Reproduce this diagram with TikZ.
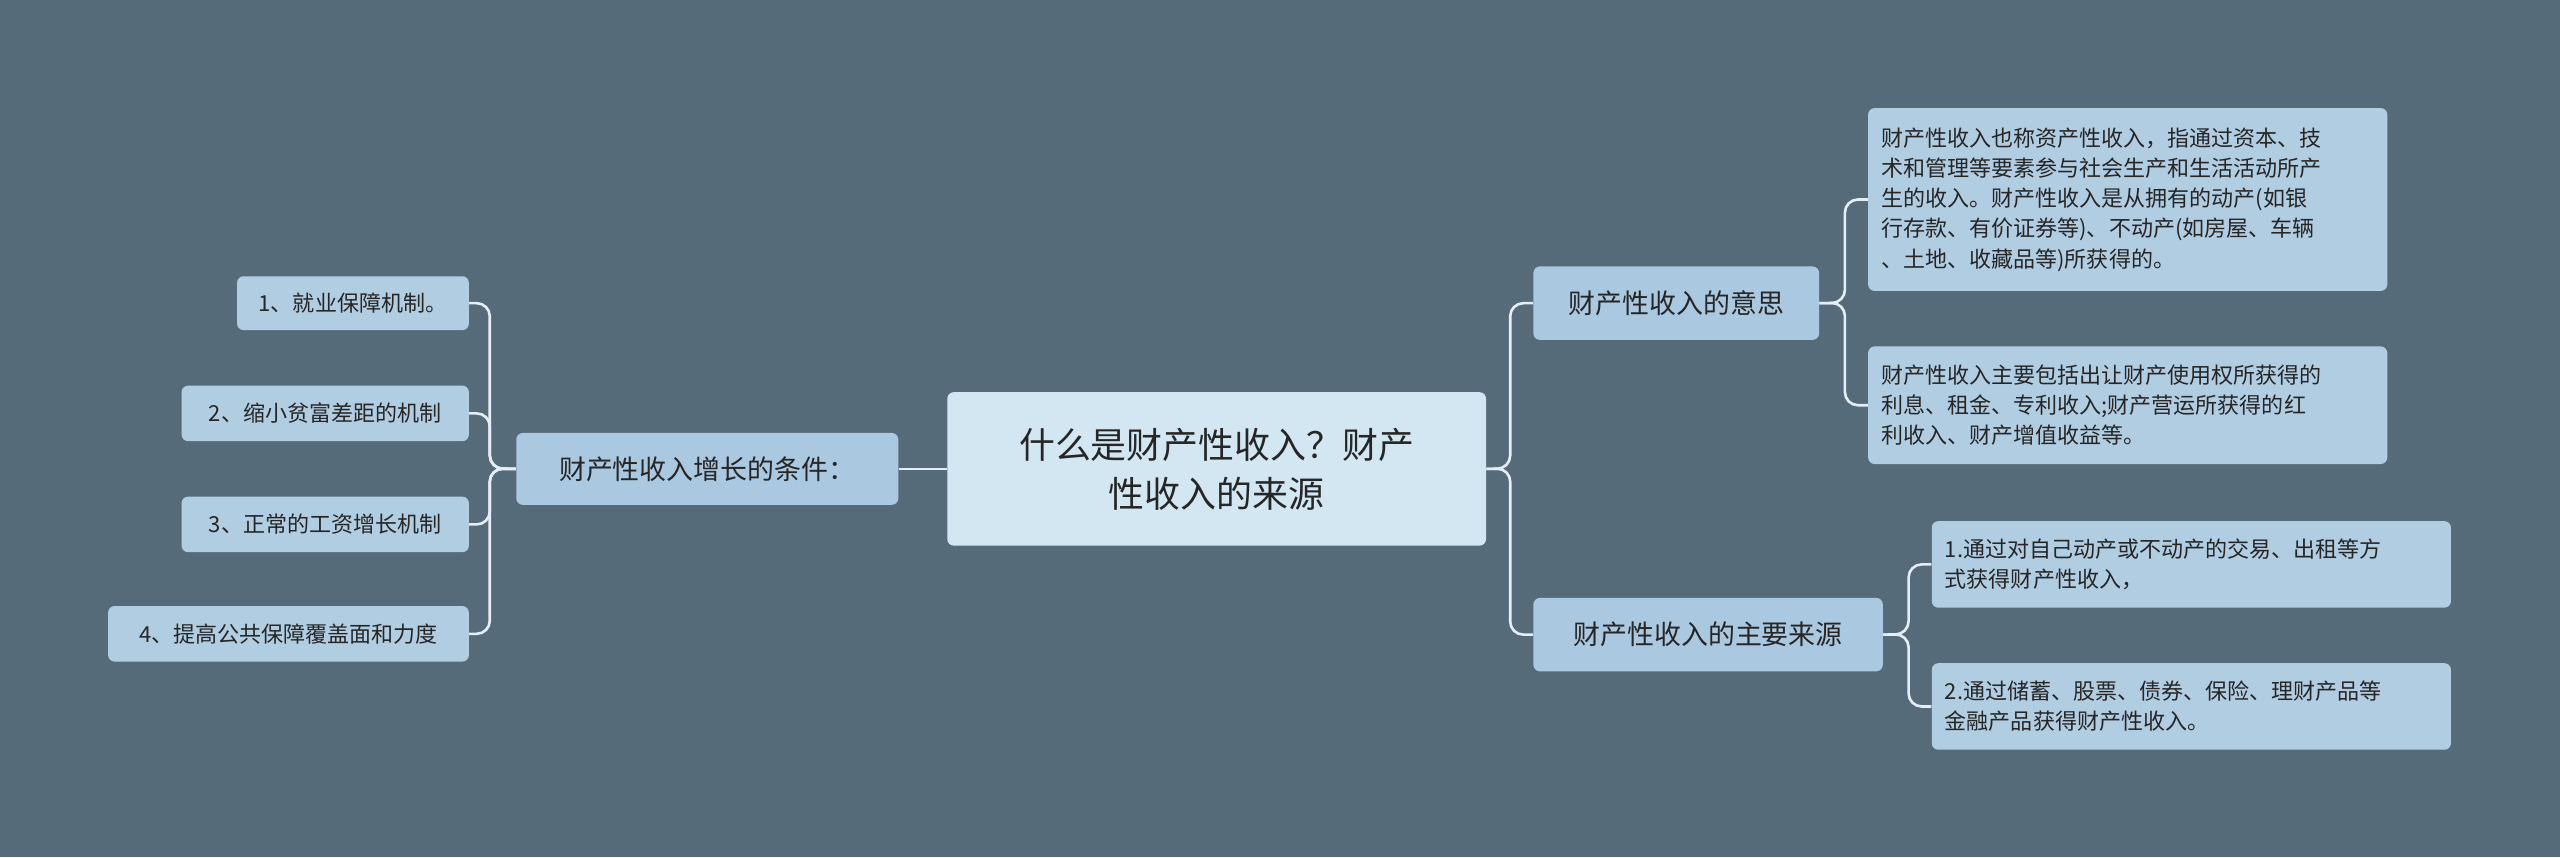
\documentclass[tikz,border=0pt]{standalone}
\usepackage{fontspec}
\setmainfont{Noto Sans CJK SC}
\begin{document}
\begin{tikzpicture}[x=1pt,y=1pt,
  box/.style={draw=none,rounded corners=4pt,anchor=north west,inner sep=0pt,text=black!85},
  ctr/.style={box,fill=ctrfill,font=\fontsize{22}{30}\selectfont,align=center},
  lone/.style={box,fill=l1fill,font=\fontsize{16.5}{20}\selectfont},
  leaf/.style={box,fill=leaffill,font=\fontsize{13.5}{18.5}\selectfont,align=left},
  link/.style={draw=linkc,line width=1.6pt,rounded corners=8pt}]
\definecolor{bgc}{HTML}{566B7A}
\definecolor{ctrfill}{HTML}{D3E7F3}
\definecolor{l1fill}{HTML}{AAC8DF}
\definecolor{leaffill}{HTML}{B1CDE2}
\definecolor{linkc}{HTML}{E3EEF6}
\fill[bgc] (0,0) rectangle (1568,-525);
\useasboundingbox (0,0) rectangle (1568,-525);
% center
\node[ctr,minimum width=330,minimum height=94] (c) at (580,-240) {什么是财产性收入？财产\\性收入的来源};
% left
\node[lone,minimum width=234,minimum height=44] (l) at (316,-265) {财产性收入增长的条件：};
\node[leaf,minimum width=142,minimum height=33] (l1) at (145,-169) {1、就业保障机制。};
\node[leaf,minimum width=176,minimum height=34] (l2) at (111,-236) {2、缩小贫富差距的机制};
\node[leaf,minimum width=176,minimum height=34] (l3) at (111,-304) {3、正常的工资增长机制};
\node[leaf,minimum width=221,minimum height=34] (l4) at (66,-371) {4、提高公共保障覆盖面和力度};
% right
\node[lone,minimum width=175,minimum height=45] (a) at (939,-163) {财产性收入的意思};
\node[lone,minimum width=214,minimum height=45] (b) at (939,-366) {财产性收入的主要来源};
\node[leaf,minimum width=318,minimum height=112,text width=302] (a1) at (1144,-66) {\hspace*{0pt}财产性收入也称资产性收入，指通过资本、技\\术和管理等要素参与社会生产和生活活动所产\\生的收入。财产性收入是从拥有的动产(如银\\行存款、有价证券等)、不动产(如房屋、车辆\\、土地、收藏品等)所获得的。};
\node[leaf,minimum width=318,minimum height=72,text width=302] (a2) at (1144,-212) {财产性收入主要包括出让财产使用权所获得的\\利息、租金、专利收入;财产营运所获得的红\\利收入、财产增值收益等。};
\node[leaf,minimum width=318,minimum height=53,text width=302] (b1) at (1183,-319) {1.通过对自己动产或不动产的交易、出租等方\\式获得财产性收入，};
\node[leaf,minimum width=318,minimum height=53,text width=302] (b2) at (1183,-406) {2.通过储蓄、股票、债券、保险、理财产品等\\金融产品获得财产性收入。};
% links
\foreach \t in {l1,l2,l3,l4} \draw[link] (l.west) -- (300,-287) |- (\t.east);
\draw[link] (c.west) -- (l.east);
\foreach \t in {a,b} \draw[link] (c.east) -- (925,-287) |- (\t.west);
\foreach \t in {a1,a2} \draw[link] (a.east) -- (1130,-185.5) |- (\t.west);
\foreach \t in {b1,b2} \draw[link] (b.east) -- (1169,-388.5) |- (\t.west);
\end{tikzpicture}
\end{document}
